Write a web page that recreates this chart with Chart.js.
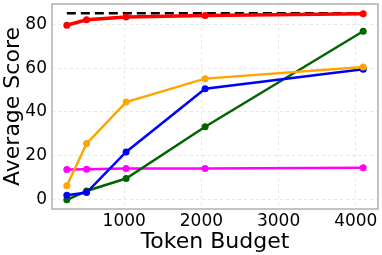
<!DOCTYPE html>
<html>
<head>
<meta charset="utf-8">
<script src="https://cdn.jsdelivr.net/npm/chart.js@4"></script>
<style>
  html, body { margin: 0; padding: 0; background: #fff; }
  #wrap { width: 382px; height: 255px; position: relative; }
</style>
</head>
<body>
<div id="wrap"><canvas id="chart"></canvas></div>
<script>
const budgets = [256, 512, 1024, 2048, 4096];
const redScores = [79.5, 82, 83.3, 84, 84.8];
const orangeScores = [6.4, 25.6, 44.5, 55.2, 60.5];
const blueScores = [2.1, 3.3, 21.8, 50.6, 59.5];
const greenScores = [0, 4, 9.7, 33.3, 76.8];
const magentaScores = [13.8, 13.9, 14.3, 14.3, 14.6];
const refScore = [85, 85];
const refBudgets = [256, 4096];
const xTicks = [1000, 2000, 3000, 4000];
const yTicks = [0, 20, 40, 60, 80];

const FONT = "'DejaVu Sans', sans-serif";

const pts = (xs, ys) => xs.map((x, i) => ({ x: x, y: ys[i] }));

function series(label, color, ys, width, order) {
    return {
        label: label, data: pts(budgets, ys), borderColor: color, backgroundColor: color,
        borderWidth: width, pointRadius: 3.5, pointBorderWidth: 0, pointHoverRadius: 3.5,
        tension: 0, order: order
    };
}

// cadre gris autour de la zone de tracé
const boxPlugin = {
    id: 'box',
    afterDraw(chart) {
        const a = chart.chartArea, ctx = chart.ctx;
        ctx.save();
        ctx.strokeStyle = '#b0b0b0';
        ctx.lineWidth = 1.5;
        ctx.strokeRect(a.left, a.top, a.right - a.left, a.bottom - a.top);
        ctx.restore();
    }
};

new Chart(document.getElementById('chart'), {
    type: 'line',
    data: {
        datasets: [
            series('red', '#ff0000', redScores, 3.5, 0),
            {
                label: 'ref', data: pts(refBudgets, refScore), borderColor: '#000', borderWidth: 2.5,
                borderDash: [9, 5], pointRadius: 0, order: 1
            },
            series('orange', '#ffa500', orangeScores, 2.5, 2),
            series('blue', '#0000ff', blueScores, 2.5, 3),
            series('green', '#006400', greenScores, 2.5, 4),
            series('magenta', '#ff00ff', magentaScores, 2.5, 5)
        ]
    },
    options: {
        responsive: true,
        maintainAspectRatio: false,
        animation: false,
        layout: { padding: { top: 4, right: 4, left: 0, bottom: 0 } },
        plugins: { legend: { display: false }, tooltip: { enabled: false } },
        scales: {
            x: {
                type: 'linear', min: 64, max: 4288,
                afterBuildTicks: s => { s.ticks = xTicks.map(v => ({ value: v })); },
                afterFit: s => { s.height = 46; s.paddingLeft = 0; s.paddingRight = 0; },
                grid: { color: '#e6e6e6', drawTicks: false },
                border: { display: false, dash: [3, 3] },
                ticks: { color: '#000', font: { family: FONT, size: 17 }, padding: 2, callback: v => String(v) },
                title: { display: true, text: 'Token Budget', color: '#000', font: { family: FONT, size: 22 }, padding: { top: -2, bottom: 0 } }
            },
            y: {
                min: -4.2, max: 89.2,
                afterBuildTicks: s => { s.ticks = yTicks.map(v => ({ value: v })); },
                afterFit: s => { s.width = 52; s.paddingTop = 0; s.paddingBottom = 0; },
                grid: { color: '#e6e6e6', drawTicks: false },
                border: { display: false, dash: [3, 3] },
                ticks: { color: '#000', font: { family: FONT, size: 17 }, padding: 5 },
                title: { display: true, text: 'Average Score', color: '#000', font: { family: FONT, size: 22 }, padding: { top: 0, bottom: 0 } }
            }
        }
    },
    plugins: [boxPlugin]
});
</script>
</body>
</html>
